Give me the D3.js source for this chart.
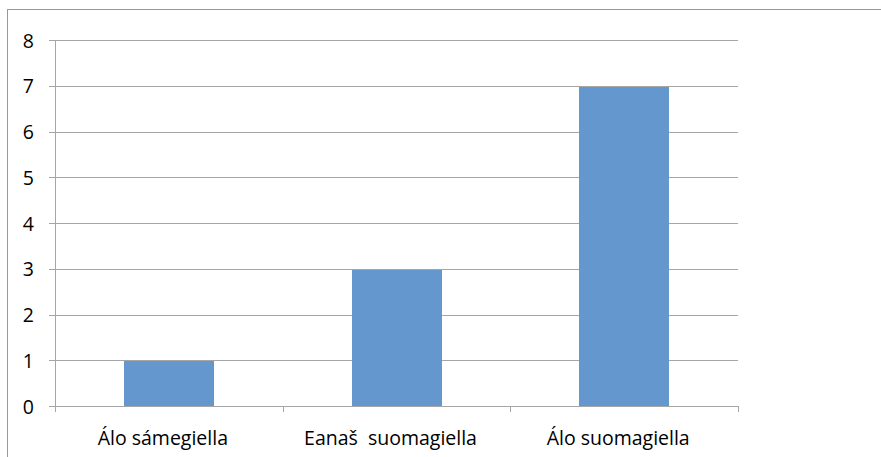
<!DOCTYPE html>
<html><head><meta charset="utf-8">
<script src="https://cdn.jsdelivr.net/npm/d3@7"></script>
<style>
body{margin:0;background:#fff;}
svg{display:block;}
text{font-family:"Open Sans","Noto Sans",sans-serif;fill:#000;}
</style></head><body>
<svg id="c" width="881" height="457"></svg>
<script>
const categories = ["Álo sámegiella", "Eanaš  suomagiella", "Álo suomagiella"];
const values = [1, 3, 7];
const yTicks = [0, 1, 2, 3, 4, 5, 6, 7, 8];

const svg = d3.select("#c");
// outer border
svg.append("rect").attr("x", 7.5).attr("y", 9.5).attr("width", 880).attr("height", 460)
  .attr("fill", "none").attr("stroke", "#999").attr("stroke-width", 1);

const m = {left: 55, right: 738, top: 40, bottom: 406};
const x = d3.scaleBand().domain(categories).range([m.left, m.right]).paddingInner(0.605).paddingOuter(0.3025);
const xb = d3.scaleBand().domain(categories).range([m.left, m.right]);
const y = d3.scaleLinear().domain([0, 8]).range([m.bottom, m.top]);

// gridlines
svg.append("g").selectAll("line").data(yTicks).join("line")
  .attr("x1", m.left - 6).attr("x2", m.right)
  .attr("y1", d => Math.round(y(d)) + 0.5).attr("y2", d => Math.round(y(d)) + 0.5)
  .attr("stroke", "#a6a6a6").attr("stroke-width", 1);

// bars
svg.append("g").selectAll("rect").data(values).join("rect")
  .attr("x", (d, i) => Math.round(x(categories[i])))
  .attr("width", Math.round(x.bandwidth()))
  .attr("y", d => Math.round(y(d)) + 1)
  .attr("height", d => Math.round(y(0)) - Math.round(y(d)) - 1)
  .attr("fill", "#6497cd");

// y axis line
svg.append("line").attr("x1", m.left + 0.5).attr("x2", m.left + 0.5)
  .attr("y1", m.top).attr("y2", m.bottom + 1).attr("stroke", "#a6a6a6");

// x axis ticks
const xt = [m.left, ...categories.map(c => xb(c) + xb.bandwidth())];
svg.append("g").selectAll("line").data(xt).join("line")
  .attr("x1", d => Math.round(d) + 0.5).attr("x2", d => Math.round(d) + 0.5)
  .attr("y1", m.bottom).attr("y2", m.bottom + 6).attr("stroke", "#a6a6a6");

// y labels
svg.append("g").selectAll("text").data(yTicks).join("text")
  .attr("x", 34).attr("y", d => y(d) + 7.5).attr("text-anchor", "end")
  .attr("font-size", 19.5).text(d => d);

// x labels
svg.append("g").selectAll("text").data(categories).join("text")
  .attr("x", d => xb(d) + xb.bandwidth() / 2 - 6).attr("y", 445)
  .attr("text-anchor", "middle").attr("font-size", 19.5)
  .style("white-space", "pre").text(d => d);
</script>
</body></html>
